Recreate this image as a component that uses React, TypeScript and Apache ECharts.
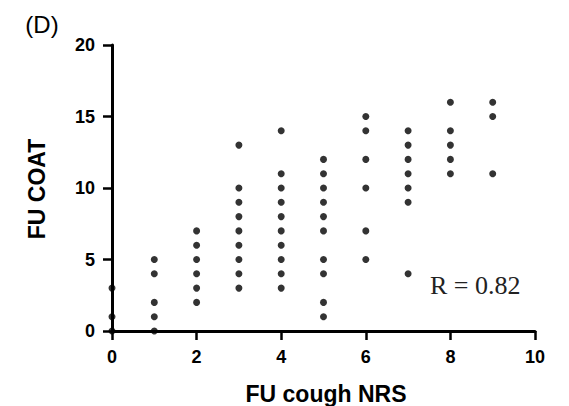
import React, { useEffect, useRef } from "react";
import * as echarts from "echarts";

const coughNRS = [0, 1, 2, 3, 4, 5, 6, 7, 8, 9];
const coatAt0 = [0, 1, 3];
const coatAt1 = [0, 1, 2, 4, 5];
const coatAt2 = [2, 3, 4, 5, 6, 7];
const coatAt3 = [3, 4, 5, 6, 7, 8, 9, 10, 13];
const coatAt4 = [3, 4, 5, 6, 7, 8, 9, 10, 11, 14];
const coatAt5 = [1, 2, 4, 5, 7, 8, 9, 10, 11, 12];
const coatAt6 = [5, 7, 10, 12, 14, 15];
const coatAt7 = [4, 9, 10, 11, 12, 13, 14];
const coatAt8 = [11, 12, 13, 14, 16];
const coatAt9 = [11, 15, 16];
const coatColumns = [coatAt0, coatAt1, coatAt2, coatAt3, coatAt4, coatAt5, coatAt6, coatAt7, coatAt8, coatAt9];
const xTicks = [0, 2, 4, 6, 8, 10];
const yTicks = [0, 5, 10, 15, 20];
const rLabel = "R = 0.82";

export default function App() {
  const ref = useRef<HTMLDivElement>(null);
  useEffect(() => {
    if (!ref.current) return;
    const chart = echarts.init(ref.current, undefined, { renderer: "svg" });
    const points: number[][] = [];
    coughNRS.forEach((x, i) => coatColumns[i].forEach((y) => points.push([x, y])));
    const sans = "'Liberation Sans', Arial, sans-serif";
    const labelFont = { fontFamily: sans, fontWeight: "bold" as const, fontSize: 18, color: "#000" };
    chart.setOption({
      animation: false,
      backgroundColor: "#fff",
      grid: { left: 112, right: 34, top: 45, bottom: 75 },
      xAxis: {
        type: "value",
        min: xTicks[0],
        max: xTicks[xTicks.length - 1],
        interval: 2,
        splitLine: { show: false },
        axisLine: { onZero: false, lineStyle: { color: "#000", width: 3 } },
        axisTick: { show: true, length: 9, lineStyle: { color: "#000", width: 2.5 } },
        axisLabel: { ...labelFont, margin: 17 },
      },
      yAxis: {
        type: "value",
        min: yTicks[0],
        max: yTicks[yTicks.length - 1],
        interval: 5,
        splitLine: { show: false },
        axisLine: { show: true, onZero: false, lineStyle: { color: "#000", width: 3 } },
        axisTick: { show: true, length: 9, lineStyle: { color: "#000", width: 2.5 } },
        axisLabel: { ...labelFont, margin: 17 },
      },
      series: [
        {
          type: "scatter",
          data: points,
          symbol: "circle",
          symbolSize: 7,
          clip: false,
          itemStyle: { color: "#000" },
          z: 5,
        },
      ],
      graphic: [
        {
          type: "text",
          x: 42,
          y: 24,
          style: {
            text: "(D)",
            fontSize: 24,
            fontFamily: sans,
            fontWeight: "normal",
            fill: "#000",
            align: "center",
            verticalAlign: "middle",
          },
        },
        {
          type: "text",
          x: 37,
          y: 189,
          rotation: Math.PI / 2,
          style: {
            text: "FU COAT",
            fontSize: 23,
            fontFamily: sans,
            fontWeight: "bold",
            fill: "#000",
            align: "center",
            verticalAlign: "middle",
          },
        },
        {
          type: "text",
          x: 326,
          y: 394,
          style: {
            text: "FU cough NRS",
            fontSize: 23,
            fontFamily: sans,
            fontWeight: "bold",
            fill: "#000",
            align: "center",
            verticalAlign: "middle",
          },
        },
        {
          type: "text",
          x: 430,
          y: 285,
          style: {
            text: rLabel,
            fontSize: 26,
            fontFamily: "'Liberation Serif', serif",
            fill: "#222",
            align: "left",
            verticalAlign: "middle",
          },
        },
      ],
    });
    return () => chart.dispose();
  }, []);
  return <div ref={ref} style={{ width: 569, height: 406, position: "absolute", left: 0, top: 0 }} />;
}
